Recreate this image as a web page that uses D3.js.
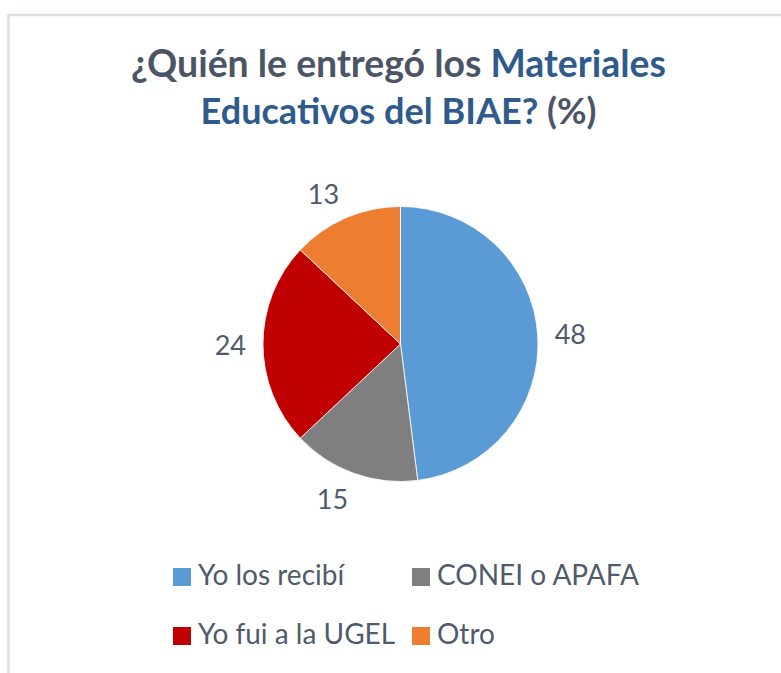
<!DOCTYPE html>
<html>
<head>
<meta charset="utf-8">
<script src="https://cdn.jsdelivr.net/npm/d3@7"></script>
<style>
  html, body { margin: 0; padding: 0; background: #fff; }
  svg { display: block; }
</style>
</head>
<body>
<div id="chart"></div>
<script>
// data
const categories = ["Yo los recibí", "CONEI o APAFA", "Yo fui a la UGEL", "Otro"];
const values = [48, 15, 24, 13];
const colors = ["#5B9BD5", "#7F7F7F", "#C00000", "#ED7D31"];
const titleLine1 = [["¿Quién le entregó los ", "gray"], ["Materiales", "blue"]];
const titleLine2 = [["Educativos del BIAE?", "blue"], [" (%)", "gray"]];

const width = 781, height = 673;
const cx = 400.5, cy = 344, radius = 137.5;
const textGray = "#4F5B6B";
const titleColors = { gray: "#4A5566", blue: "#2E5B8C" };
const font = "Lato, 'Open Sans', sans-serif";

const svg = d3.select("#chart").append("svg")
  .attr("width", width)
  .attr("height", height);

// chart frame (only top and left edges are visible in the crop)
svg.append("rect")
  .attr("x", 8.5).attr("y", 15)
  .attr("width", width + 20).attr("height", height + 20)
  .attr("fill", "#fff")
  .attr("stroke", "#DCE0E5")
  .attr("stroke-width", 2.5);

// fit a text element's width by adjusting its font size
function fitWidth(sel, target) {
  const size = parseFloat(sel.attr("font-size"));
  const w = sel.node().getComputedTextLength();
  sel.attr("font-size", size * target / w);
}

function titleLine(parts, y, target) {
  const t = svg.append("text")
    .attr("x", 398.5).attr("y", y)
    .attr("text-anchor", "middle")
    .attr("font-family", font)
    .attr("font-weight", "bold")
    .attr("font-size", 30);
  parts.forEach(p => t.append("tspan").attr("fill", titleColors[p[1]]).text(p[0]));
  fitWidth(t, target);
}
titleLine(titleLine1, 77, 535);
titleLine(titleLine2, 124, 396);

// pie
const pie = d3.pie().sort(null).value(d => d)(values);
const arc = d3.arc().innerRadius(0).outerRadius(radius);

const g = svg.append("g").attr("transform", `translate(${cx},${cy})`);
g.selectAll("path.slice")
  .data(pie)
  .enter()
  .append("path")
  .attr("class", "slice")
  .attr("d", arc)
  .attr("fill", (d, i) => colors[i])
  .attr("stroke", "#fff")
  .attr("stroke-width", 0.8);

// data labels, outside end: box pushed out from the rim
const labelGap = 17, labelH = 20;
g.selectAll("text.lbl")
  .data(pie)
  .enter()
  .append("text")
  .attr("class", "lbl")
  .attr("font-family", font)
  .attr("font-size", 27)
  .attr("fill", textGray)
  .attr("text-anchor", "middle")
  .attr("dominant-baseline", "central")
  .text(d => d.data)
  .each(function (d) {
    const a = (d.startAngle + d.endAngle) / 2;
    const ux = Math.sin(a), uy = -Math.cos(a);
    const bw = this.getBBox().width;
    const x = (radius + labelGap) * ux + Math.sign(ux) * bw / 2;
    const y = (radius + labelGap) * uy + uy * labelH / 2;
    d3.select(this).attr("x", x).attr("y", y);
  });

// legend
const legend = svg.append("g");
const colX = [173, 412], rowY = [568, 627], sw = 18;
const items = legend.selectAll("g")
  .data(categories)
  .enter()
  .append("g")
  .attr("transform", (d, i) => `translate(${colX[i % 2]},${rowY[Math.floor(i / 2)]})`);
items.append("rect")
  .attr("width", sw).attr("height", sw)
  .attr("fill", (d, i) => colors[i]);
items.append("text")
  .attr("x", 25).attr("y", 17)
  .attr("font-family", font)
  .attr("font-size", 28)
  .attr("fill", textGray)
  .text(d => d);
</script>
</body>
</html>
